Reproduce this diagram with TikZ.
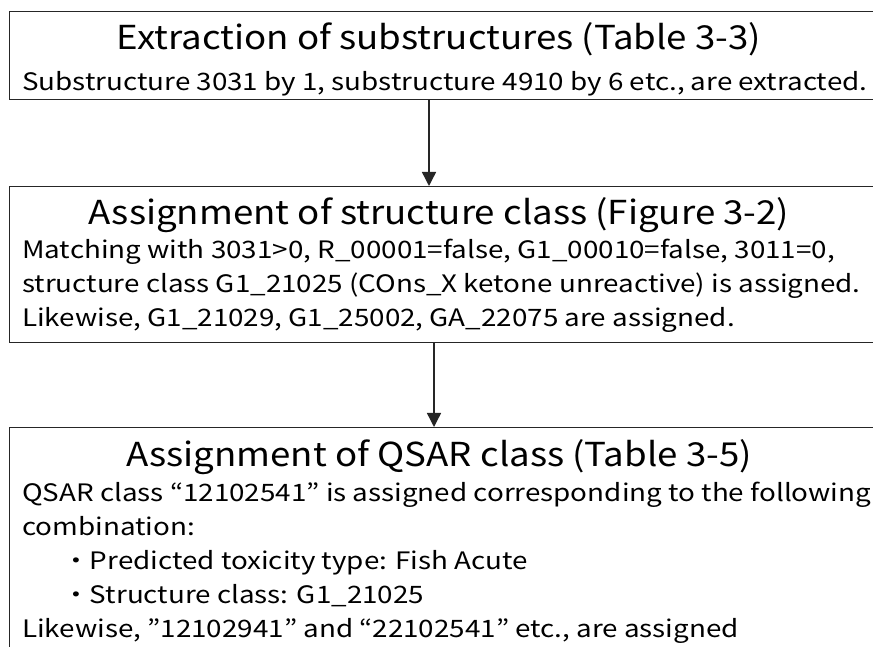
\documentclass[tikz,border=0pt]{standalone}
\usepackage{fontspec}
\setmainfont{Noto Sans CJK JP}
\newfontfamily\titlefont[FakeStretch=1.11]{Noto Sans CJK JP}
\newfontfamily\bodyfont[FakeStretch=1.158]{Noto Sans CJK JP}
\usetikzlibrary{arrows.meta}
\tikzset{
  boxframe/.style={draw=black!85, line width=1.4pt, rectangle, inner sep=0pt, anchor=north west},
  titletext/.style={anchor=base, inner sep=0pt, font=\titlefont\fontsize{33}{33}\selectfont},
  bodytext/.style={anchor=base west, inner sep=0pt, font=\bodyfont\fontsize{24}{24}\selectfont},
  flowarrow/.style={line width=1.4pt, draw=black!85, -{Triangle[length=14pt,width=14pt]}}
}
\begin{document}
\begin{tikzpicture}[x=1pt,y=1pt]
\useasboundingbox (0,0) rectangle (873,646);
\clip (0,0) rectangle (873,646);
\fill[white] (0,0) rectangle (873,646);
% boxes
\node[boxframe, minimum width=890pt, minimum height=88pt] (box1) at (9,635) {};
\node[boxframe, minimum width=890pt, minimum height=156pt] (box2) at (9,460) {};
\node[boxframe, minimum width=890pt, minimum height=260pt] (box3) at (9,219) {};
% box 1 text
\node[titletext] (t1) at (439,596) {Extraction of substructures (Table 3-3)};
\node[bodytext] (b1a) at (22,555) {Substructure 3031 by 1, substructure 4910 by 6 etc., are extracted.};
% box 2 text
\node[titletext] (t2) at (439,421) {Assignment of structure class (Figure 3-2)};
\node[bodytext] (b2a) at (22,387) {Matching with 3031>0, R\_00001=false, G1\_00010=false, 3011=0,};
\node[bodytext] (b2b) at (22,353) {structure class G1\_21025 (COns\_X ketone unreactive) is assigned.};
\node[bodytext] (b2c) at (22,319) {Likewise, G1\_21029, G1\_25002, GA\_22075 are assigned.};
% box 3 text
\node[titletext] (t3) at (439,180) {Assignment of QSAR class (Table 3-5)};
\node[bodytext] (b3a) at (22,145) {QSAR class “12102541” is assigned corresponding to the following};
\node[bodytext] (b3b) at (22,111) {combination:};
\node[bodytext] (b3c) at (22,77) {\hspace*{40pt}・Predicted toxicity type: Fish Acute};
\node[bodytext] (b3d) at (22,43) {\hspace*{40pt}・Structure class: G1\_21025};
\node[bodytext] (b3e) at (22,9) {Likewise, ”12102941” and “22102541” etc., are assigned};
% arrows
\coordinate (a1) at (429,0);
\coordinate (a2) at (434,0);
\draw[flowarrow] (box1.south -| a1) -- (box2.north -| a1);
\draw[flowarrow] (box2.south -| a2) -- (box3.north -| a2);
\end{tikzpicture}
\end{document}
